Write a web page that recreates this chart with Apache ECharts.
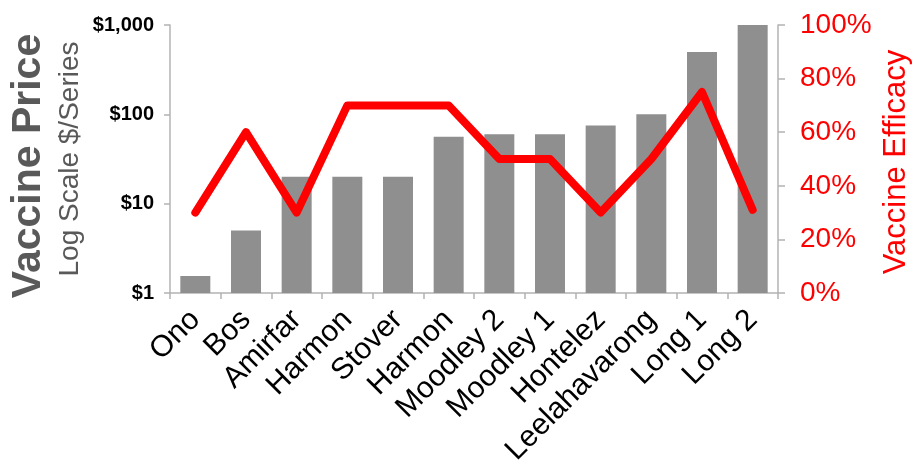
<!DOCTYPE html>
<html>
<head>
<meta charset="utf-8">
<script src="https://cdn.jsdelivr.net/npm/echarts@6/dist/echarts.min.js"></script>
<style>html,body{margin:0;padding:0;background:#fff}#c{width:912px;height:464px}</style>
</head>
<body>
<div id="c"></div>
<script>
const categories = ['Ono','Bos','Amirfar','Harmon','Stover','Harmon','Moodley 2','Moodley 1','Hontelez','Leelahavarong','Long 1','Long 2'];
const prices = [1.55, 5, 20, 20, 20, 56, 60, 60, 75, 100, 500, 1000];
const efficacy = [30, 60, 30, 70, 70, 70, 50, 50, 30, 50, 75, 31];
const priceTicks = [1, 10, 100, 1000];
const efficacyTicks = [0, 20, 40, 60, 80, 100];

const FONT = '"Liberation Sans", Arial, sans-serif';
const chart = echarts.init(document.getElementById('c'));
chart.setOption({
  animation: false,
  textStyle: { fontFamily: FONT },
  grid: { left: 170, right: 134, top: 25, bottom: 171, containLabel: false, outerBoundsMode: 'none' },
  xAxis: {
    type: 'category',
    data: categories,
    boundaryGap: true,
    axisLine: { lineStyle: { color: '#b3b3b3', width: 1.5 } },
    axisTick: { show: true, inside: false, length: 6, lineStyle: { color: '#b3b3b3', width: 1.5 } },
    axisLabel: { rotate: 45, fontSize: 30, color: '#000', margin: 22, interval: 0, fontFamily: FONT }
  },
  yAxis: [
    {
      type: 'log', logBase: 10, min: priceTicks[0], max: priceTicks[priceTicks.length - 1],
      splitLine: { show: false },
      axisLine: { show: true, lineStyle: { color: '#b3b3b3', width: 1.5 } },
      axisTick: { show: true, inside: false, length: 6, lineStyle: { color: '#b3b3b3', width: 1.5 } },
      axisLabel: {
        fontSize: 20, fontWeight: 'bold', color: '#000', margin: 16, fontFamily: FONT,
        formatter: v => '$' + Number(v).toLocaleString('en-US')
      }
    },
    {
      type: 'value', min: efficacyTicks[0], max: efficacyTicks[efficacyTicks.length - 1], interval: 20,
      position: 'right',
      splitLine: { show: false },
      axisLine: { show: true, lineStyle: { color: '#b3b3b3', width: 1.5 } },
      axisTick: { show: true, inside: false, length: 7, lineStyle: { color: '#b3b3b3', width: 1.5 } },
      axisLabel: { fontSize: 28, color: '#ff0000', margin: 22, fontFamily: FONT, formatter: '{value}%' }
    }
  ],
  graphic: [
    { type: 'text', x: 29, y: 166, rotation: Math.PI / 2,
      style: { text: 'Vaccine Price', font: 'bold 41px ' + FONT, fill: '#595959', textAlign: 'center', textVerticalAlign: 'middle' } },
    { type: 'text', x: 70, y: 159, rotation: Math.PI / 2,
      style: { text: 'Log Scale $/Series', font: '28px ' + FONT, fill: '#595959', textAlign: 'center', textVerticalAlign: 'middle' } },
    { type: 'text', x: 896, y: 162, rotation: Math.PI / 2,
      style: { text: 'Vaccine Efficacy', font: '31px ' + FONT, fill: '#ff0000', textAlign: 'center', textVerticalAlign: 'middle' } }
  ],
  series: [
    {
      type: 'bar', data: prices, yAxisIndex: 0, barWidth: 30,
      itemStyle: { color: '#8f8f8f' }
    },
    {
      type: 'line', data: efficacy, yAxisIndex: 1, symbol: 'none',
      lineStyle: { color: '#ff0000', width: 8, cap: 'round', join: 'round' }
    }
  ]
});
</script>
</body>
</html>
